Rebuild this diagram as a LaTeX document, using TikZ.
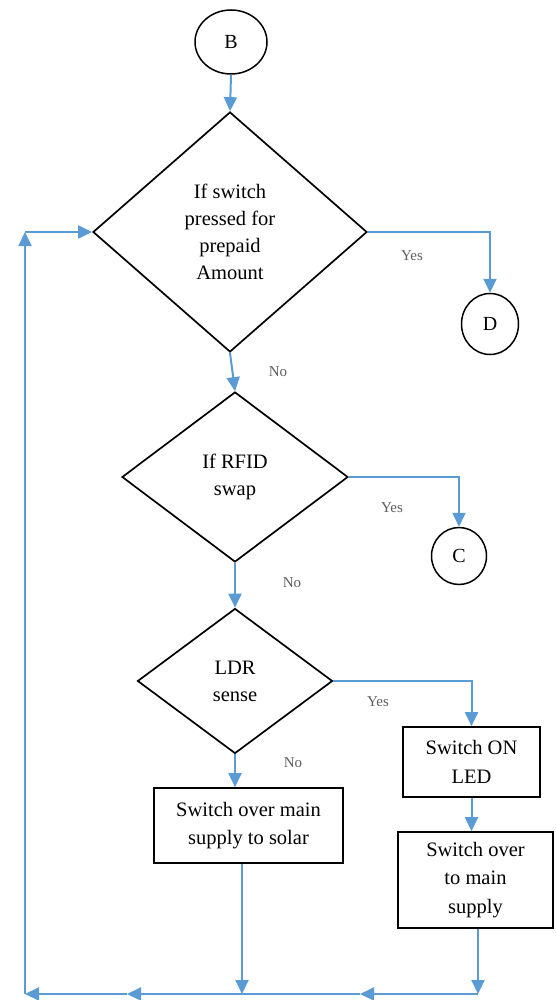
\documentclass[tikz,border=0pt]{standalone}
\usepackage{fontspec}
\setmainfont{Liberation Serif}
\newfontfamily\serif{Liberation Serif}
\usetikzlibrary{shapes.geometric,arrows.meta}
\definecolor{flow}{RGB}{91,155,213}
\definecolor{lbl}{RGB}{95,95,95}
\begin{document}
\begin{tikzpicture}[x=1pt,y=-1pt,
  decision/.style={diamond,draw=black,line width=1.7pt,inner sep=0pt,align=center,
    font=\serif\fontsize{20.5}{27}\selectfont},
  procbox/.style={rectangle,draw=black,line width=1.7pt,inner sep=0pt,align=center,
    font=\serif\fontsize{20.5}{28.5}\selectfont},
  conn/.style={ellipse,draw=black,line width=1.5pt,inner sep=0pt,
    font=\serif\fontsize{20}{24}\selectfont},
  flowline/.style={draw=flow,line width=2pt},
  arr/.style={flowline,-{Triangle[length=14pt,width=13pt]}},
  lab/.style={text=lbl,font=\serif\fontsize{15}{18}\selectfont,inner sep=0pt}]
\useasboundingbox (0,0) rectangle (555,1000);
\fill[white] (0,0) rectangle (555,1000);

% nodes
\node[conn,minimum width=72pt,minimum height=64pt] (B) at (231,42) {B};
\node[decision,minimum width=274pt,minimum height=240pt] (d1) at (230,232)
  {If switch\\pressed for\\prepaid\\Amount};
\node[conn,minimum width=57pt,minimum height=61pt] (D) at (490,324) {D};
\node[decision,minimum width=226pt,minimum height=170pt] (d2) at (235,477)
  {If RFID\\swap};
\node[conn,minimum width=55pt,minimum height=57pt] (C) at (459,556) {C};
\node[decision,minimum width=195pt,minimum height=145pt] (d3) at (235,681)
  {LDR\\sense};
\node[procbox,minimum width=189pt,minimum height=75pt] (box1) at (248.5,825.5)
  {Switch over main\\supply to solar};
\node[procbox,minimum width=137pt,minimum height=70pt] (box2) at (471.5,762)
  {Switch ON\\LED};
\node[procbox,minimum width=155pt,minimum height=96pt] (box3) at (475.5,880)
  {Switch over\\to main\\supply};

% labels
\node[lab] (y1) at (412,256) {Yes};
\node[lab] (n1) at (278,372) {No};
\node[lab] (y2) at (392,508) {Yes};
\node[lab] (n2) at (292,583) {No};
\node[lab] (y3) at (378,702) {Yes};
\node[lab] (n3) at (293,763) {No};

% junction coordinates
\coordinate (j1) at (242,994);
\coordinate (j2) at (478,994);
\coordinate (m1) at (360,994);
\coordinate (m2) at (127,994);
\coordinate (c1) at (25,994);
\coordinate (c2) at (25,232);

% connectors
\draw[arr] (B.south) -- (d1.north);
\draw[arr] (d1.east) -| (D.north);
\draw[arr] (d1.south) -- (d2.north);
\draw[arr] (d2.east) -| (C.north);
\draw[arr] (d2.south) -- (d3.north);
\draw[arr] (d3.east) -| (box2.north);
\draw[arr] (d3.south) -- (d3.south |- box1.north);
\draw[arr] (box2.south) -- (box2.south |- box3.north);
\draw[arr] (j1 |- box1.south) -- (j1);
\draw[arr] (j2 |- box3.south) -- (j2);
\draw[arr] (j2) -- (m1);
\draw[flowline] (m1) -- (j1);
\draw[arr] (j1) -- (m2);
\draw[arr] (m2) -- (c1);
\draw[arr] (c1) -- (c2);
\draw[arr] (c2) -- (d1.west);
\end{tikzpicture}
\end{document}
